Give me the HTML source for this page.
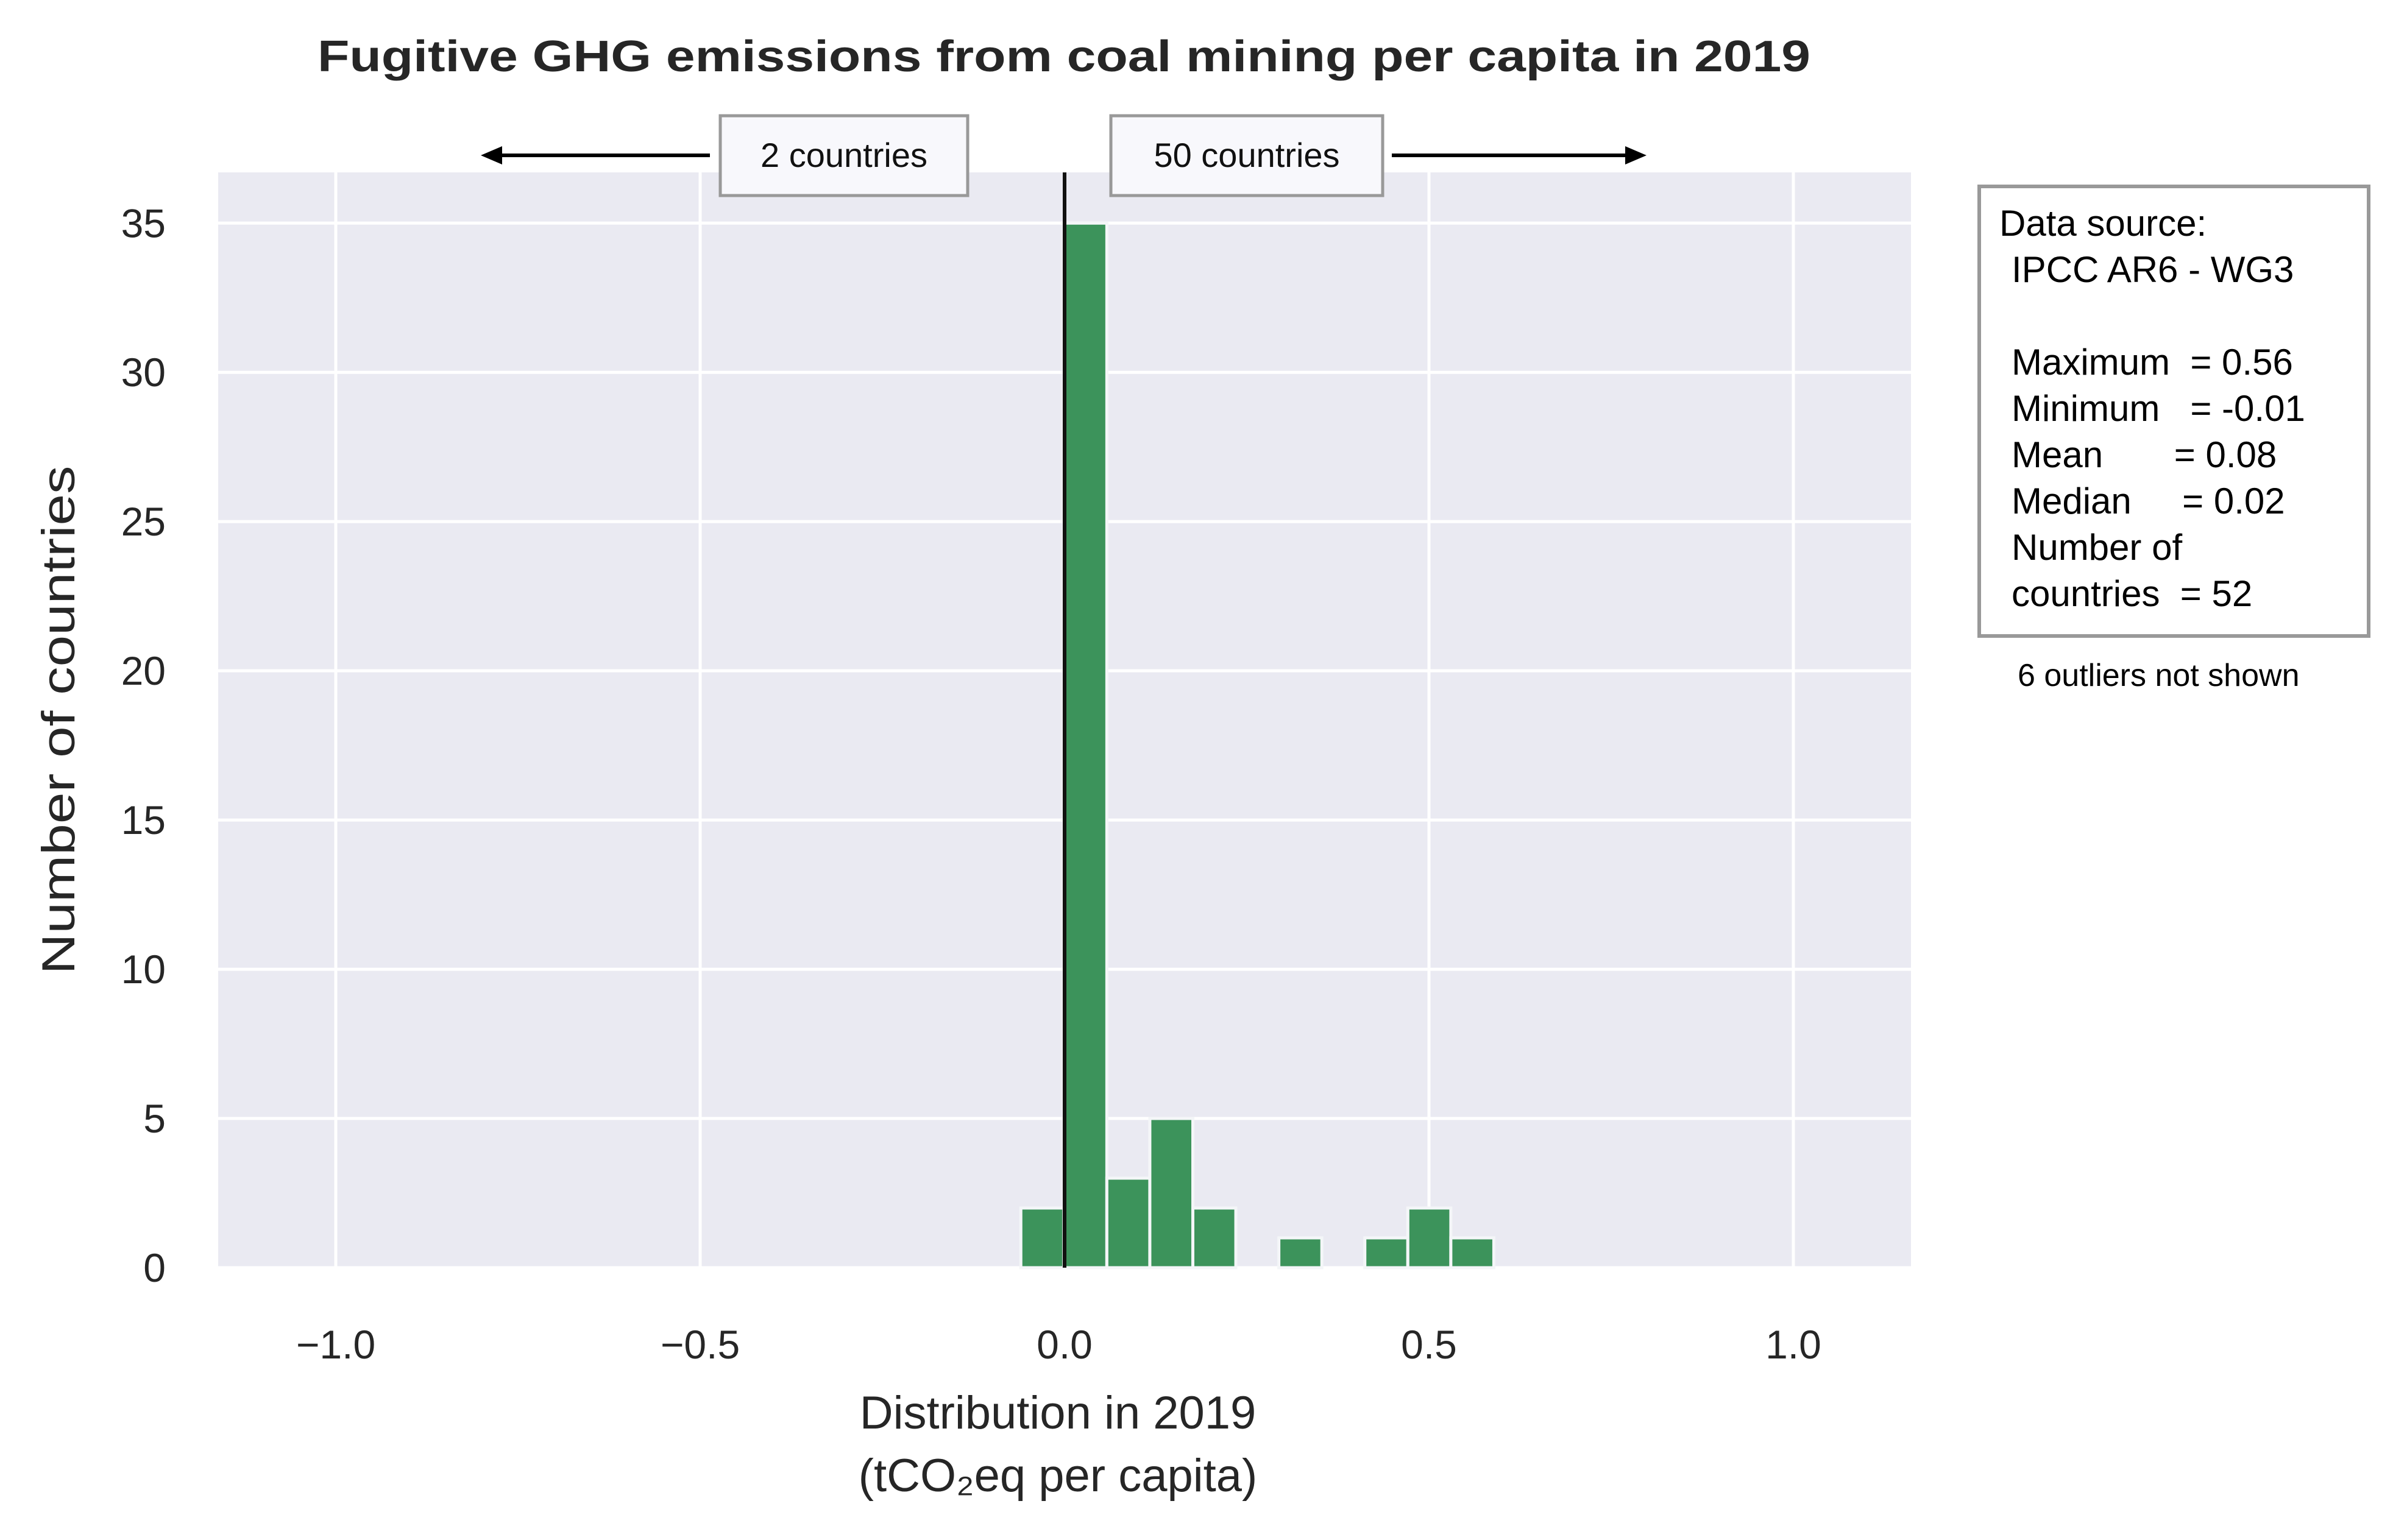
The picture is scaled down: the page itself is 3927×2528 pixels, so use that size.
<!DOCTYPE html>
<html><head><meta charset="utf-8"><style>
html,body{margin:0;padding:0;background:#fff;}
svg{display:block;font-family:"Liberation Sans",sans-serif;}
.pre{white-space:pre;}
</style></head><body>
<svg id="chart" width="3927" height="2528" viewBox="0 0 3927 2528" xmlns="http://www.w3.org/2000/svg">
<rect x="358" y="283" width="2778" height="1798" fill="#EAEAF2"/>
<g id="grid"></g>
<g id="bars"></g>
<line x1="1747" y1="283" x2="1747" y2="2081" stroke="#111" stroke-width="6"/>
<g id="ticks" font-size="66" fill="#262626"></g>
<text x="1746" y="117" text-anchor="middle" font-size="72" font-weight="bold" fill="#262626" textLength="2450" lengthAdjust="spacingAndGlyphs">Fugitive GHG emissions from coal mining per capita in 2019</text>
<text x="1736" y="2345" text-anchor="middle" font-size="76" fill="#262626">Distribution in 2019</text>
<text x="1736" y="2448" text-anchor="middle" font-size="76" fill="#262626">(tCO₂eq per capita)</text>
<text transform="translate(122,1182) rotate(-90)" text-anchor="middle" font-size="76" fill="#262626" textLength="835" lengthAdjust="spacingAndGlyphs">Number of countries</text>
<g>
<line x1="1165" y1="255" x2="810" y2="255" stroke="#000" stroke-width="6"/>
<polygon points="789,255 824,240 824,270" fill="#000"/>
<rect x="1182" y="190" width="406" height="131" fill="#F8F8FC" stroke="#999" stroke-width="5"/>
<text x="1385" y="274" text-anchor="middle" font-size="56" fill="#111">2 countries</text>
</g>
<g>
<line x1="2284" y1="255" x2="2680" y2="255" stroke="#000" stroke-width="6"/>
<polygon points="2702,255 2667,240 2667,270" fill="#000"/>
<rect x="1823" y="190" width="446" height="131" fill="#F8F8FC" stroke="#999" stroke-width="5"/>
<text x="2046" y="274" text-anchor="middle" font-size="56" fill="#111">50 countries</text>
</g>
<g font-size="60" fill="#000">
<rect x="3248" y="306" width="639" height="738" fill="#fff" stroke="#999" stroke-width="6"/>
<text class="pre" x="3281" y="387">Data source:</text>
<text class="pre" x="3301" y="463">IPCC AR6 - WG3</text>
<text class="pre" x="3301" y="615">Maximum  = 0.56</text>
<text class="pre" x="3301" y="691">Minimum   = -0.01</text>
<text class="pre" x="3301" y="767">Mean       = 0.08</text>
<text class="pre" x="3301" y="843">Median     = 0.02</text>
<text class="pre" x="3301" y="919">Number of</text>
<text class="pre" x="3301" y="995">countries  = 52</text>
</g>
<text x="3311" y="1126" font-size="52" fill="#000">6 outliers not shown</text>
</svg>
<script>
const binEdgesStart = -0.06;
const binWidth = 0.059;
const binCounts = [2, 35, 3, 5, 2, 0, 1, 0, 1, 2, 1];
const xTicks = [-1.0, -0.5, 0.0, 0.5, 1.0];
const xTickLabels = ["\u22121.0", "\u22120.5", "0.0", "0.5", "1.0"];
const yTicks = [0, 5, 10, 15, 20, 25, 30, 35];

const NS = "http://www.w3.org/2000/svg";
const X0 = 358, X1 = 3136, Y0 = 2081, Y1 = 283;
const xMin = -1.1614, xMax = 1.1614, yMax = 36.7;
function xs(v){ return X0 + (v - xMin) / (xMax - xMin) * (X1 - X0); }
function ys(v){ return Y0 - v / yMax * (Y0 - Y1); }
function mk(tag, attrs, parent){
  const e = document.createElementNS(NS, tag);
  for (const k in attrs) e.setAttribute(k, attrs[k]);
  parent.appendChild(e);
  return e;
}
const grid = document.getElementById('grid');
const ticks = document.getElementById('ticks');
xTicks.forEach((t, i) => {
  const l = mk('line', {x1: xs(t), x2: xs(t), y1: Y1, y2: Y0, stroke: '#fff', 'stroke-width': 5}, grid);
  
  
  const tx = mk('text', {x: xs(t), y: 2230, 'text-anchor': 'middle'}, ticks);
  tx.textContent = xTickLabels[i];
  
  
});
yTicks.forEach(t => {
  const l = mk('line', {x1: X0, x2: X1, y1: ys(t), y2: ys(t), stroke: '#fff', 'stroke-width': 5}, grid);
  
  
  const tx = mk('text', {x: 272, y: ys(t) + 23, 'text-anchor': 'end'}, ticks);
  tx.textContent = String(t);
  
  
});
const bars = document.getElementById('bars');
binCounts.forEach((c, i) => {
  if (c <= 0) return;
  const a = binEdgesStart + i * binWidth, b = a + binWidth;
  const r = mk('rect', {x: xs(a), y: ys(c), width: xs(b) - xs(a), height: ys(0) - ys(c),
    fill: '#3C935B', stroke: '#F4F6F8', 'stroke-width': 5}, bars);
  
  
});
</script>
</body></html>
